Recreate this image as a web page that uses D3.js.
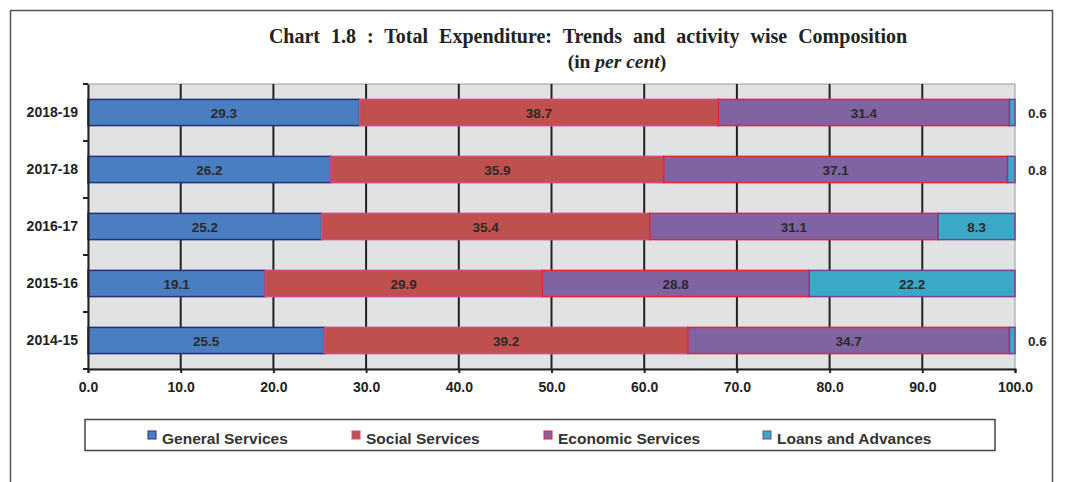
<!DOCTYPE html>
<html><head><meta charset="utf-8">
<script src="https://cdn.jsdelivr.net/npm/d3@7"></script>
<style>body{margin:0;background:#fff}svg{display:block}</style>
</head><body>
<svg id="c" width="1074" height="482"></svg>
<script>
const categories = ["2018-19","2017-18","2016-17","2015-16","2014-15"];
const seriesNames = ["General Services","Social Services","Economic Services","Loans and Advances"];
const generalServices = [29.3,26.2,25.2,19.1,25.5];
const socialServices = [38.7,35.9,35.4,29.9,39.2];
const economicServices = [31.4,37.1,31.1,28.8,34.7];
const loansAdvances = [0.6,0.8,8.3,22.2,0.6];
const xTicks = [0,10,20,30,40,50,60,70,80,90,100];

const fills = ["#4a7ec0","#c0504d","#8064a2","#3aa9c6"];
const strokes = ["#23307a","#d04a8a","#ee2233","#7a3c9a"];

const svg = d3.select("#c");
const m = {l:88, r:1015, t:84, b:369};
const sans = "Liberation Sans, Arial, sans-serif";

// outer frame
svg.append("rect").attr("x",10.5).attr("y",10.5).attr("width",1042).attr("height",490)
  .attr("fill","none").attr("stroke","#555").attr("stroke-width",1.5);

// title
svg.append("text").attr("x",588).attr("y",43).attr("text-anchor","middle")
  .attr("font-family","Liberation Serif, Times New Roman, serif").attr("font-weight","bold")
  .attr("font-size",20).attr("fill","#222")
  .attr("word-spacing",6)
  .text("Chart 1.8 : Total  Expenditure:  Trends  and  activity  wise Composition");
const t2 = svg.append("text").attr("x",617).attr("y",68).attr("text-anchor","middle")
  .attr("font-family","Liberation Serif, Times New Roman, serif").attr("font-weight","bold")
  .attr("font-size",19.5).attr("fill","#222");
t2.append("tspan").text("(in ");
t2.append("tspan").attr("font-style","italic").text("per cent");
t2.append("tspan").text(")");

const x = d3.scaleLinear().domain([0,100]).range([m.l,m.r]);
const y = d3.scaleBand().domain(categories).range([m.t,m.b]).paddingInner(0.54).paddingOuter(0.27);

// plot background
svg.append("rect").attr("x",m.l).attr("y",m.t).attr("width",m.r-m.l).attr("height",m.b-m.t)
  .attr("fill","#e1e2e4").attr("stroke","#9a9a9a").attr("stroke-width",1);

// gridlines
svg.append("g").selectAll("line").data(xTicks.filter(d=>d>0&&d<100)).join("line")
  .attr("x1",d=>x(d)).attr("x2",d=>x(d)).attr("y1",m.t).attr("y2",m.b)
  .attr("stroke","#222").attr("stroke-width",2);

// stacked bars
const rows = categories.map((c,i)=>({cat:c, v:[generalServices[i],socialServices[i],economicServices[i],loansAdvances[i]]}));
const segs = [];
rows.forEach(r=>{let acc=0; r.v.forEach((v,k)=>{segs.push({cat:r.cat,k,v,x0:acc,x1:acc+v}); acc+=v;});});

svg.append("g").selectAll("rect").data(segs).join("rect")
  .attr("x",d=>x(d.x0)).attr("y",d=>y(d.cat)).attr("width",d=>x(d.x1)-x(d.x0)).attr("height",y.bandwidth())
  .attr("fill",d=>fills[d.k]).attr("stroke",d=>strokes[d.k]).attr("stroke-width",1.5);

// labels
svg.append("g").selectAll("text").data(segs).join("text")
  .attr("x",d=> d.v<2 ? x(100)+13 : x((d.x0+d.x1)/2))
  .attr("y",d=>y(d.cat)+y.bandwidth()/2+5)
  .attr("text-anchor",d=> d.v<2 ? "start" : "middle")
  .attr("font-family",sans).attr("font-weight","bold")
  .attr("font-size",13.5).attr("fill","#2a2a2a")
  .text(d=>d.v.toFixed(1));

// y axis
const ya = svg.append("g").attr("transform",`translate(${m.l},0)`)
  .call(d3.axisLeft(y).tickSize(0).tickPadding(10));
ya.select(".domain").attr("stroke","#222").attr("stroke-width",2);
ya.selectAll("text").attr("font-family",sans).attr("font-weight","bold")
  .attr("font-size",14).attr("fill","#222");
const bounds = categories.map(c=>y(c)-y.step()*y.paddingInner()/2).slice(1).concat([m.t,m.b]);
svg.append("g").selectAll("line").data(bounds).join("line")
  .attr("x1",m.l-5).attr("x2",m.l).attr("y1",d=>d).attr("y2",d=>d)
  .attr("stroke","#222").attr("stroke-width",2);

// x axis
const xa = svg.append("g").attr("transform",`translate(0,${m.b})`)
  .call(d3.axisBottom(x).tickValues(xTicks).tickFormat(d3.format(".1f")).tickSize(4).tickPadding(9));
xa.select(".domain").attr("stroke","#222").attr("stroke-width",2);
xa.selectAll(".tick line").attr("stroke","#222").attr("stroke-width",2);
xa.selectAll("text").attr("font-family",sans).attr("font-weight","bold")
  .attr("font-size",14).attr("fill","#222");

// legend
svg.append("rect").attr("x",85).attr("y",419.5).attr("width",910).attr("height",31)
  .attr("fill","#fff").attr("stroke","#444").attr("stroke-width",1.5);
const legX = [148,352,544,763];
const lg = svg.append("g").selectAll("g").data(seriesNames).join("g")
  .attr("transform",(d,i)=>`translate(${legX[i]},0)`);
lg.append("rect").attr("x",0).attr("y",431).attr("width",8).attr("height",8)
  .attr("fill",(d,i)=>fills[i]).attr("stroke",(d,i)=>strokes[i]).attr("stroke-width",1);
lg.append("text").attr("x",14).attr("y",443.5)
  .attr("font-family",sans).attr("font-weight","bold")
  .attr("font-size",15.5).attr("fill","#333").text(d=>d);
</script>
</body></html>
